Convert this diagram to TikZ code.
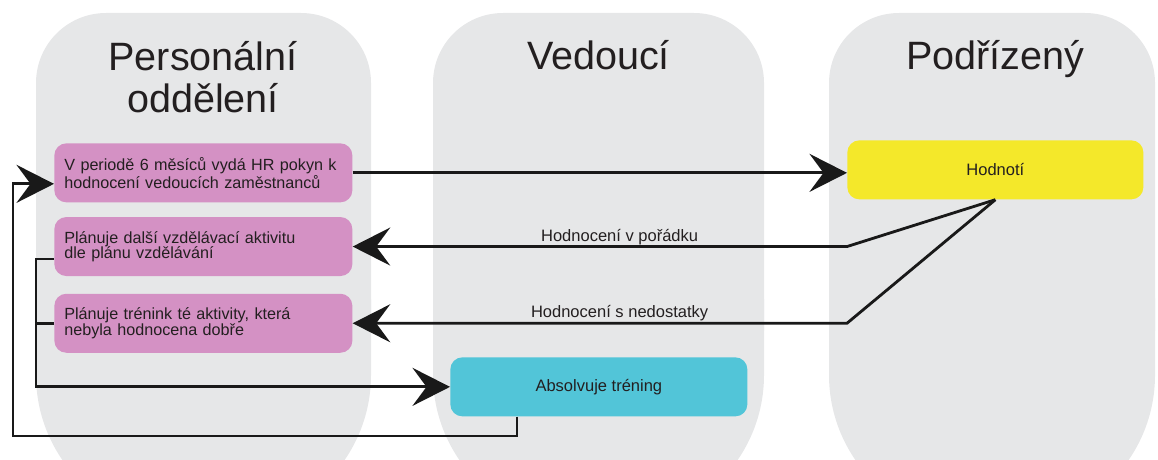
\documentclass[tikz,border=0pt]{standalone}
\usepackage{fontspec}
\setmainfont{Liberation Sans}
\usepackage{xcolor}
\usepackage{tikz}
\usetikzlibrary{positioning,arrows.meta}

\definecolor{lanegray}{RGB}{230,231,232}
\definecolor{hrpink}{RGB}{212,145,196}
\definecolor{evalyellow}{RGB}{244,232,42}
\definecolor{traincyan}{RGB}{82,197,216}
\definecolor{inkgray}{RGB}{35,31,32}

\begin{document}
\begin{tikzpicture}[
  lane/.style={fill=lanegray},
  title/.style={font=\fontsize{22.5}{24}\selectfont, text=inkgray, align=center, inner sep=0pt},
  pbox/.style={fill=hrpink, rounded corners=0.24cm, minimum width=5.92cm, minimum height=1.18cm,
               text width=5.56cm, inner xsep=0.2cm, align=left, text=inkgray,
               font=\fontsize{9.2}{8.9}\selectfont},
  ybox/.style={fill=evalyellow, rounded corners=0.24cm, minimum width=5.92cm, minimum height=1.18cm,
               align=center, text=inkgray, font=\fontsize{9.4}{10}\selectfont},
  cbox/.style={fill=traincyan, rounded corners=0.24cm, minimum width=5.94cm, minimum height=1.18cm,
               align=center, text=inkgray, font=\fontsize{9.4}{10}\selectfont},
  flow/.style={line width=1.6pt, draw=black!90},
  arrow/.style={flow, -{Stealth[length=0.75cm, width=0.76cm, inset=0.28cm]}},
  lbl/.style={font=\fontsize{9.4}{10}\selectfont, text=inkgray, anchor=base, yshift=3pt}
]
  \clip (0,0) rectangle (23.16,-9.18);

  % lanes: small radius on top, wide radius at the bottom
  \foreach \xa/\xb in {0.72/7.42, 8.66/15.28, 16.58/23.10} {
    \fill[lane, rounded corners=1.4cm] (\xa,-0.26) rectangle (\xb,-8);
    \fill[lane, rounded corners=3cm] (\xa,-3) rectangle (\xb,-10.5);
  }

  \node[title] (hrt) at (4.06,-1.55) {Personální\\oddělení};
  \node[title, anchor=base] (vedt) at (11.97,-1.38) {Vedoucí};
  \node[title, anchor=base] (podt) at (19.9,-1.38) {Podřízený};

  \node[pbox, anchor=north west] (hr) at (1.08,-2.86) {V periodě 6 měsíců vydá HR pokyn k\\hodnocení vedoucích zaměstnanců};
  \node[pbox, below=0.28cm of hr] (ok) {Plánuje další vzdělávací aktivitu\\dle plánu vzdělávání};
  \node[pbox, below=0.34cm of ok] (bad) {Plánuje trénink té aktivity, která\\nebyla hodnocena dobře};
  \node[ybox, anchor=north west] (hod) at (16.94,-2.8) {Hodnotí};
  \node[cbox, anchor=north west] (tr) at (9.0,-7.14) {Absolvuje tréning};

  \coordinate (back) at (0.26,-8.72);

  \draw[arrow] (hr.east) -- (hr.east -| hod.west);
  \draw[arrow] (hod.south) -- (hod.west |- ok.east) -- (ok.east)
    node[lbl, pos=0.46] {Hodnocení v pořádku};
  \draw[arrow] (hod.south) -- (hod.west |- bad.east) -- (bad.east)
    node[lbl, pos=0.46] {Hodnocení s nedostatky};
  \draw[arrow] ([yshift=-0.25cm]ok.west) -- ++(-0.36,0) |- (tr.west);
  \draw[flow] (bad.west) -- ++(-0.36,0);
  \draw[arrow] ([xshift=1.34cm]tr.south west) |- (back) |- ([yshift=-0.22cm]hr.west);
\end{tikzpicture}
\end{document}
